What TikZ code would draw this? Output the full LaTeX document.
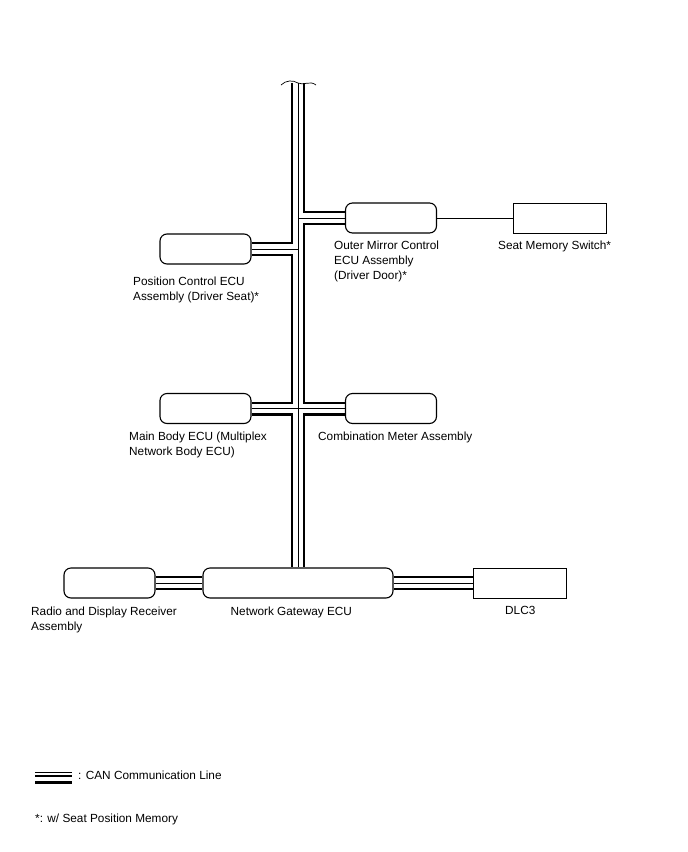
\documentclass[tikz,border=0pt]{standalone}
\usepackage{fontspec}
\setmainfont{Liberation Sans}
\usetikzlibrary{positioning,calc,backgrounds}
\tikzset{
  ecu/.style ={draw,line width=1.1pt,rounded corners=7pt,fill=white,minimum width=91pt,minimum height=30pt,inner sep=0pt},
  sw/.style  ={draw,line width=0.9pt,fill=white,minimum width=93pt,minimum height=30pt,inner sep=0pt},
  lbl/.style ={font=\fontsize{11.8}{15}\selectfont,align=left,anchor=north west,inner sep=0pt},
  canout/.style={line width=14pt,black},
  canmid/.style={line width=9.6pt,white},
  canin/.style ={line width=0.9pt,black},
  wire/.style ={line width=0.7pt},
}

\begin{document}
\begin{tikzpicture}[x=1pt,y=-1pt]
  \useasboundingbox (0,0) rectangle (688,852);
  % units
  \node[ecu] (pc) at (205.5,249){};
  \node[ecu] (om) at (391,218){};
  \node[sw]  (sms) at (559.5,218){};
  \node[ecu] (mb) at (205.5,408.5){};
  \node[ecu] (cm) at (391,408.5){};
  \node[ecu] (ra) at (109.5,583){};
  \node[ecu,minimum width=190pt] (gw) at (298,583){};
  \node[sw]  (dlc) at (520,583){};
  \coordinate (top) at (298,83);
  % CAN bus
  \begin{scope}[on background layer]
    \foreach \st in {canout,canmid,canin}
      \draw[\st] (top) -- (gw.north)
        (top |- om.west) -- (om.west)
        (top |- pc.east) -- (pc.east)
        (top |- mb.east) -- (mb.east)
        (top |- cm.west) -- (cm.west)
        (ra.east) -- (gw.west)
        (gw.east) -- (dlc.west);
  \end{scope}
  \draw[wire] (281,85) .. controls (286,80) and (293,80) .. (298,83)
    .. controls (303,86) and (310,80) .. (316,85);
  \draw[wire] (om.east) -- (sms.west);
  % labels
  \node[lbl] (pcl) at (133,276.5){Position Control ECU\\Assembly (Driver Seat)*};
  \node[lbl] (oml) at (334,240.5){Outer Mirror Control\\ECU Assembly\\(Driver Door)*};
  \node[lbl] (smsl) at (498,240.5){Seat Memory Switch*};
  \node[lbl] (mbl) at (129,431.5){Main Body ECU (Multiplex\\Network Body ECU)};
  \node[lbl] (cml) at (318,431.5){Combination Meter Assembly};
  \node[lbl] (ral) at (31,606.5){Radio and Display Receiver\\Assembly};
  \node[lbl] (gwl) at (230.5,606.5){Network Gateway ECU};
  \node[lbl] (dlcl) at (505,606.5){DLC3};
  % legend
  \draw[line width=1.3pt] (35,772.3) -- (72,772.3);
  \draw[line width=1.5pt] (35,775.8) -- (72,775.8);
  \draw[line width=2.3pt] (35,782.5) -- (72,782.5);
  \node[lbl] (canl) at (78,770.5){: CAN Communication Line};
  \node[lbl] (note) at (35,813.5){*: w/ Seat Position Memory};
\end{tikzpicture}
\end{document}
